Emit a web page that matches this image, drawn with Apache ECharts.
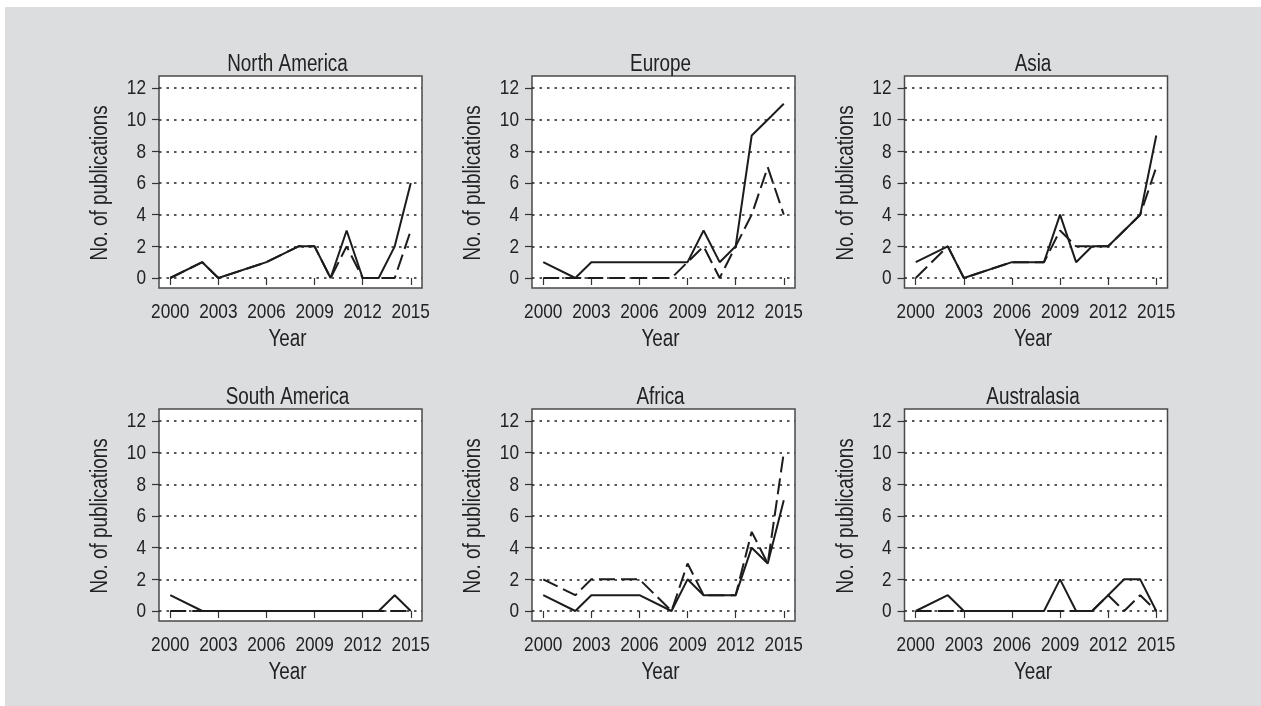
<!DOCTYPE html>
<html>
<head>
<meta charset="utf-8">
<script src="https://cdn.jsdelivr.net/npm/echarts@6/dist/echarts.min.js"></script>
<style>
  html, body { margin: 0; padding: 0; background: #ffffff; }
  #chart { width: 1261px; height: 706px; }
</style>
</head>
<body>
<div id="chart"></div>
<script>
// Publication years with recorded counts
const years = [2000, 2002, 2003, 2006, 2008, 2009, 2010, 2011, 2012, 2013, 2014, 2015];

// Region panel titles, in reading order
const regions = ['North America', 'Europe', 'Asia', 'South America', 'Africa', 'Australasia'];

// Counts per region: solid line series (A) and dashed line series (B)
const northAmericaA = [0, 1, 0, 1, 2, 2, 0, 3, 0, 0, 2, 6];
const northAmericaB = [0, 1, 0, 1, 2, 2, 0, 2, 0, 0, 0, 3];
const europeA       = [1, 0, 1, 1, 1, 1, 3, 1, 2, 9, 10, 11];
const europeB       = [0, 0, 0, 0, 0, 1, 2, 0, 2, 4, 7, 4];
const asiaA         = [1, 2, 0, 1, 1, 4, 1, 2, 2, 3, 4, 9];
const asiaB         = [0, 2, 0, 1, 1, 3, 2, 2, 2, 3, 4, 7];
const southAmericaA = [1, 0, 0, 0, 0, 0, 0, 0, 0, 0, 1, 0];
const southAmericaB = [0, 0, 0, 0, 0, 0, 0, 0, 0, 0, 0, 0];
const africaA       = [1, 0, 1, 1, 0, 2, 1, 1, 1, 4, 3, 7];
const africaB       = [2, 1, 2, 2, 0, 3, 1, 1, 1, 5, 3, 10];
const australasiaA  = [0, 1, 0, 0, 0, 2, 0, 0, 1, 2, 2, 0];
const australasiaB  = [0, 0, 0, 0, 0, 0, 0, 0, 1, 0, 1, 0];

const seriesA = [northAmericaA, europeA, asiaA, southAmericaA, africaA, australasiaA];
const seriesB = [northAmericaB, europeB, asiaB, southAmericaB, africaB, australasiaB];

// Axis ticks and names
const xTicks = [2000, 2003, 2006, 2009, 2012, 2015];
const yTicks = [0, 2, 4, 6, 8, 10, 12];
const xName = 'Year';
const yName = 'No. of publications';
const xMin = 1999.3, xMax = 2015.7;

// Panel layout (pixels)
const colLeft = [159, 532, 904.5];
const panelWidth = 263;
const rowTop = [88, 421];      // position of the y = 12 line
const rowHeight = 190;         // from y = 12 to y = 0
const framePadTop = 12;
const framePadBottom = 10;

// Condensed sans text, drawn with a horizontal squeeze
const FONT_FAMILY = "'Liberation Sans', Arial, sans-serif";
const SQUEEZE = 0.82;
const TEXT = '#222222';
const INK = '#1c1c1c';

const grid = [], xAxis = [], yAxis = [], series = [];

// Framing boxes (white panels with a border) go first so they sit underneath
for (let i = 0; i < 6; i++) {
  const c = i % 3, r = Math.floor(i / 3);
  grid.push({
    left: colLeft[c], width: panelWidth,
    top: rowTop[r] - framePadTop, height: rowHeight + framePadTop + framePadBottom,
    show: true, backgroundColor: '#ffffff', borderColor: '#4a4a4a', borderWidth: 1.5
  });
  xAxis.push({ gridIndex: i, type: 'value', show: false, min: 0, max: 1 });
  yAxis.push({ gridIndex: i, type: 'value', show: false, min: 0, max: 1 });
}

// Data panels
for (let i = 0; i < 6; i++) {
  const c = i % 3, r = Math.floor(i / 3);
  const g = 6 + i;
  grid.push({ left: colLeft[c], width: panelWidth, top: rowTop[r], height: rowHeight });
  xAxis.push({
    gridIndex: g, type: 'value', min: xMin, max: xMax,
    offset: framePadBottom,
    axisLine: { show: false },
    axisTick: { show: true, length: 7, customValues: xTicks, lineStyle: { color: '#333', width: 1.2 } },
    axisLabel: { show: false },
    splitLine: { show: false }
  });
  yAxis.push({
    gridIndex: g, type: 'value', min: yTicks[0], max: yTicks[yTicks.length - 1],
    interval: yTicks[1] - yTicks[0],
    axisLine: { show: false },
    axisTick: { show: true, length: 7, lineStyle: { color: '#333', width: 1.2 } },
    axisLabel: { show: false },
    splitLine: { show: true, lineStyle: { color: '#222', width: 1.5, type: [2.5, 5] } }
  });
  const toPairs = vals => years.map((y, k) => [y, vals[k]]);
  series.push({
    type: 'line', name: 'A', xAxisIndex: g, yAxisIndex: g,
    data: toPairs(seriesA[i]), symbol: 'none', z: 4,
    lineStyle: { color: INK, width: 2 }
  });
  series.push({
    type: 'line', name: 'B', xAxisIndex: g, yAxisIndex: g,
    data: toPairs(seriesB[i]), symbol: 'none', z: 3,
    lineStyle: { color: INK, width: 2, type: [16, 6] }
  });
}

const backdrop = {
  type: 'rect', left: 5, top: 7, z: -100,
  shape: { width: 1256, height: 699 },
  style: { fill: '#dcdddf' }
};

const chart = echarts.init(document.getElementById('chart'), null, { renderer: 'canvas' });
chart.setOption({ animation: false, backgroundColor: '#ffffff', graphic: [backdrop], grid, xAxis, yAxis, series });

// Text labels placed from the axes' own scales
function label(text, x, y, size, align, rotation) {
  return {
    type: 'text', x, y, z: 10, rotation: rotation || 0, scaleX: SQUEEZE,
    style: {
      text, fill: TEXT, font: size + 'px ' + FONT_FAMILY,
      align: align, verticalAlign: 'middle'
    }
  };
}

const texts = [backdrop];
for (let i = 0; i < 6; i++) {
  const g = 6 + i;
  const finder = { xAxisIndex: g, yAxisIndex: g };
  const px = v => chart.convertToPixel(finder, v);
  const topLeft = px([xMin, yTicks[yTicks.length - 1]]);
  const bottomRight = px([xMax, yTicks[0]]);
  const frameLeft = topLeft[0], frameRight = bottomRight[0];
  const frameTop = topLeft[1] - framePadTop;
  const frameBottom = bottomRight[1] + framePadBottom;
  const midX = (frameLeft + frameRight) / 2;
  const midY = (topLeft[1] + bottomRight[1]) / 2;

  texts.push(label(regions[i], midX - 3, frameTop - 11, 23, 'center'));
  xTicks.forEach(v => texts.push(label(String(v), px([v, 0])[0], frameBottom + 24.5, 21, 'center')));
  yTicks.forEach(v => texts.push(label(String(v), frameLeft - 13, px([xMin, v])[1] + 0.5, 21, 'right')));
  texts.push(label(xName, midX - 3, frameBottom + 52, 23, 'center'));
  texts.push(label(yName, frameLeft - 58, midY, 23, 'center', Math.PI / 2));
}
chart.setOption({ graphic: texts });
</script>
</body>
</html>
